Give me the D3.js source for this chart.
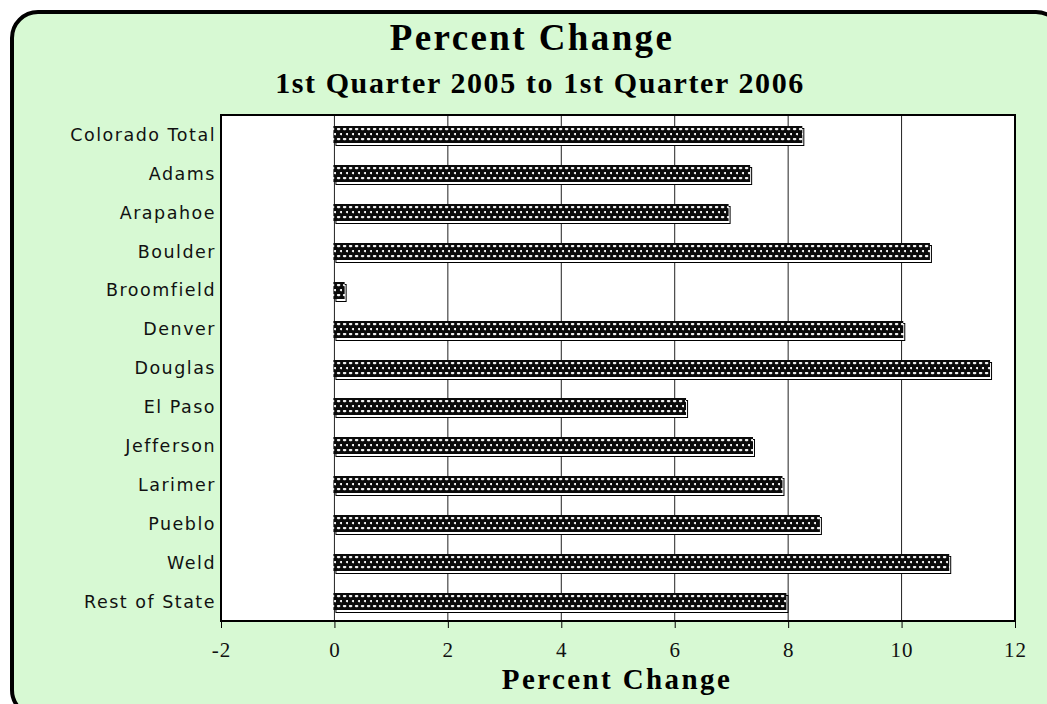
<!DOCTYPE html>
<html>
<head>
<meta charset="utf-8">
<script src="https://cdn.jsdelivr.net/npm/d3@7"></script>
<style>
  body { margin: 0; background: #fff; }
  svg { display: block; }
</style>
</head>
<body>
<div id="chart"></div>
<script>
const categories = ["Colorado Total", "Adams", "Arapahoe", "Boulder", "Broomfield", "Denver",
    "Douglas", "El Paso", "Jefferson", "Larimer", "Pueblo", "Weld", "Rest of State"];
const values = [8.25, 7.33, 6.95, 10.5, 0.18, 10.03, 11.56, 6.2, 7.38, 7.9, 8.56, 10.84, 7.97];
const xTicks = [-2, 0, 2, 4, 6, 8, 10, 12];

const width = 1047;
const height = 704;
const plot = { left: 221, right: 1015, top: 115, bottom: 621 };
const serif = "'Liberation Serif', 'Times New Roman', serif";

const svg = d3.select("#chart")
    .append("svg")
    .attr("width", width)
    .attr("height", height);

// dotted fill of the bars
const defs = svg.append("defs");
const pat = defs.append("pattern")
    .attr("id", "dots")
    .attr("patternUnits", "userSpaceOnUse")
    .attr("width", 6)
    .attr("height", 10);
pat.append("rect").attr("width", 6).attr("height", 10).attr("fill", "#0a0a0a");
[[0.8, 2], [3.8, 7]].forEach(p => {
    pat.append("rect")
        .attr("x", p[0]).attr("y", p[1])
        .attr("width", 3.6).attr("height", 2.2)
        .attr("rx", 1.1)
        .attr("fill", "#f2f2f2");
});

// frame
svg.append("rect")
    .attr("x", 12).attr("y", 12)
    .attr("width", 1050).attr("height", 704)
    .attr("rx", 26)
    .attr("fill", "#d7f9d3")
    .attr("stroke", "#000")
    .attr("stroke-width", 4);

svg.append("text")
    .attr("x", 532).attr("y", 50)
    .attr("text-anchor", "middle")
    .style("font-family", serif)
    .style("font-weight", "bold")
    .style("font-size", "37px")
    .style("letter-spacing", "2.4px")
    .text("Percent Change");

svg.append("text")
    .attr("x", 540).attr("y", 93)
    .attr("text-anchor", "middle")
    .style("font-family", serif)
    .style("font-weight", "bold")
    .style("font-size", "30px")
    .style("letter-spacing", "1.6px")
    .text("1st Quarter 2005 to 1st Quarter 2006");

const x = d3.scaleLinear().domain([-2, 12]).range([plot.left, plot.right]);
const y = d3.scaleBand().domain(categories).range([plot.top, plot.bottom]);

svg.append("rect")
    .attr("x", plot.left).attr("y", plot.top)
    .attr("width", plot.right - plot.left)
    .attr("height", plot.bottom - plot.top)
    .attr("fill", "#fff");

// gridlines
svg.append("g")
    .selectAll("line")
    .data(xTicks.filter(d => d > -2 && d < 12))
    .enter()
    .append("line")
    .attr("x1", d => x(d)).attr("x2", d => x(d))
    .attr("y1", plot.top).attr("y2", plot.bottom)
    .attr("stroke", "#222")
    .attr("stroke-width", 1);

const barH = 17;

const bars = svg.append("g")
    .selectAll("g")
    .data(values)
    .enter()
    .append("g")
    .attr("transform", (d, i) => `translate(0,${Math.round(y(categories[i]) + y.bandwidth() / 2 - barH / 2)})`);

// shadow box
bars.append("rect")
    .attr("x", x(0) + 1.5)
    .attr("y", 2.5)
    .attr("width", d => x(d) - x(0))
    .attr("height", barH)
    .attr("fill", "#fff")
    .attr("stroke", "#000")
    .attr("stroke-width", 1);

bars.append("rect")
    .attr("x", x(0) - 1)
    .attr("y", 0)
    .attr("width", d => x(d) - x(0) + 1)
    .attr("height", barH)
    .attr("fill", "url(#dots)");

// plot border
svg.append("rect")
    .attr("x", plot.left).attr("y", plot.top)
    .attr("width", plot.right - plot.left)
    .attr("height", plot.bottom - plot.top)
    .attr("fill", "none")
    .attr("stroke", "#000")
    .attr("stroke-width", 2);

// x axis
const xAxis = svg.append("g")
    .attr("transform", `translate(0,${plot.bottom})`)
    .call(d3.axisBottom(x).tickValues(xTicks).tickSize(7).tickPadding(14).tickFormat(d => String(d)));
xAxis.select(".domain").remove();
xAxis.selectAll("line").attr("stroke", "#000");
xAxis.selectAll("text")
    .attr("fill", "#111")
    .style("font-family", serif)
    .style("font-size", "21px")
    .style("letter-spacing", "1px");

// category labels
svg.append("g")
    .selectAll("text")
    .data(categories)
    .enter()
    .append("text")
    .attr("x", plot.left - 5)
    .attr("y", d => y(d) + y.bandwidth() / 2)
    .attr("dy", "0.36em")
    .attr("text-anchor", "end")
    .attr("fill", "#111")
    .style("font-family", "'DejaVu Sans', Verdana, sans-serif")
    .style("font-size", "17.5px")
    .style("letter-spacing", "1.5px")
    .text(d => d);

svg.append("text")
    .attr("x", 617).attr("y", 689)
    .attr("text-anchor", "middle")
    .style("font-family", serif)
    .style("font-weight", "bold")
    .style("font-size", "29px")
    .style("letter-spacing", "2.4px")
    .text("Percent Change");
</script>
</body>
</html>
